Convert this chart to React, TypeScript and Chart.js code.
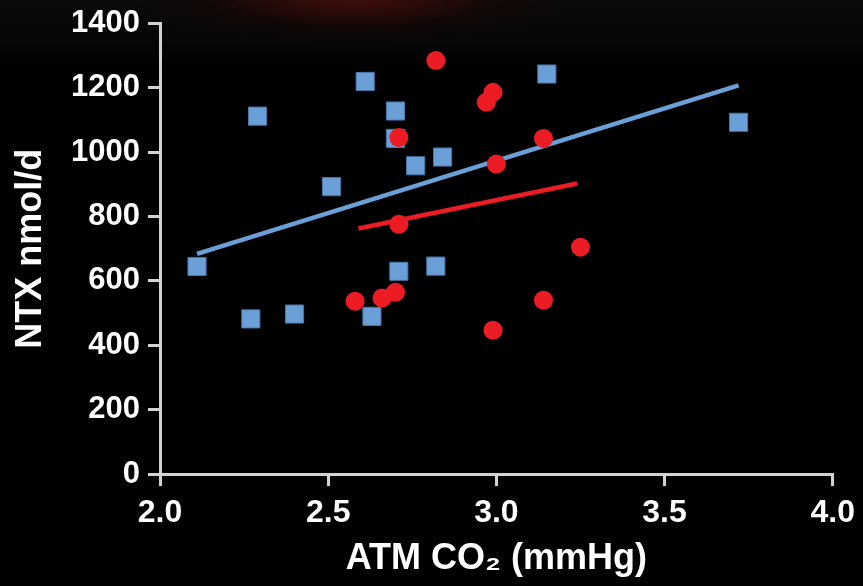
import { useEffect, useRef } from "react";
import { Chart, registerables } from "chart.js";

Chart.register(...registerables);

// Blue squares
const blueX = [2.11, 2.27, 2.29, 2.40, 2.51, 2.61, 2.63, 2.70, 2.70, 2.71, 2.76, 2.82, 2.84, 3.15, 3.72];
const blueY = [645, 482, 1112, 497, 893, 1220, 490, 1128, 1043, 630, 958, 646, 985, 1243, 1093];
// Red circles
const redX = [2.82, 2.97, 2.99, 2.71, 3.00, 3.14, 2.71, 3.25, 2.58, 2.66, 2.70, 3.14, 2.99];
const redY = [1285, 1155, 1186, 1046, 963, 1043, 776, 705, 537, 547, 565, 540, 447];
// Regression lines
const blueFitX = [2.11, 3.72];
const blueFitY = [684, 1208];
const redFitX = [2.59, 3.24];
const redFitY = [763, 903];

const xMin = 2.0;
const xMax = 4.0;
const xStep = 0.5;
const yMin = 0;
const yMax = 1400;
const yStep = 200;

const xTitle = "ATM CO\u2082 (mmHg)";
const yTitle = "NTX nmol/d";

const BLUE = "#6b9fd7";
const RED = "#ec1c24";
const AXIS = "#d2d2d2";
const FONT = "'Liberation Sans', Arial, Helvetica, sans-serif";

const zip = (xs: number[], ys: number[]) => xs.map((x, i) => ({ x, y: ys[i] }));

export default function App() {
  const ref = useRef<HTMLCanvasElement | null>(null);

  useEffect(() => {
    if (!ref.current) return;
    const chart = new Chart(ref.current, {
      type: "scatter",
      data: {
        datasets: [
          {
            label: "red",
            data: zip(redX, redY),
            pointStyle: "circle",
            pointRadius: 9.5,
            pointHoverRadius: 9.5,
            backgroundColor: RED,
            borderColor: RED,
            borderWidth: 0,
            order: 0,
          },
          {
            label: "blue",
            data: zip(blueX, blueY),
            pointStyle: "rect",
            pointRadius: 12.8,
            pointHoverRadius: 12.8,
            backgroundColor: BLUE,
            borderColor: "#4a78aa",
            borderWidth: 1,
            order: 1,
          },
          {
            type: "line",
            label: "blueFit",
            data: zip(blueFitX, blueFitY),
            borderColor: BLUE,
            borderWidth: 4.5,
            pointRadius: 0,
            showLine: true,
            fill: false,
            order: 2,
          } as any,
          {
            type: "line",
            label: "redFit",
            data: zip(redFitX, redFitY),
            borderColor: RED,
            borderWidth: 4.5,
            pointRadius: 0,
            showLine: true,
            fill: false,
            order: 3,
          } as any,
        ],
      },
      options: {
        animation: false,
        responsive: false,
        maintainAspectRatio: false,
        layout: { padding: { left: 0, right: 26, top: 23, bottom: 5 } },
        plugins: { legend: { display: false }, tooltip: { enabled: false } },
        scales: {
          x: {
            type: "linear",
            min: xMin,
            max: xMax,
            afterFit: (s: any) => {
              s.height = 107;
            },
            ticks: {
              stepSize: xStep,
              color: "#ffffff",
              padding: 8,
              font: { family: FONT, size: 32, weight: "bold" },
              callback: (v: any) => Number(v).toFixed(1),
            },
            grid: {
              drawOnChartArea: false,
              drawTicks: true,
              tickLength: 12,
              lineWidth: 3,
              color: AXIS,
            },
            border: { display: true, color: AXIS, width: 3 },
            title: {
              display: true,
              text: xTitle,
              color: "#ffffff",
              padding: { top: 0, bottom: 0 },
              font: { family: FONT, size: 36, weight: "bold" },
            },
          },
          y: {
            type: "linear",
            min: yMin,
            max: yMax,
            afterFit: (s: any) => {
              s.width = 160;
            },
            ticks: {
              stepSize: yStep,
              color: "#ffffff",
              padding: 8,
              font: { family: FONT, size: 31, weight: "bold", lineHeight: 1 },
              callback: (v: any) => String(Number(v)),
            },
            grid: {
              drawOnChartArea: false,
              drawTicks: true,
              tickLength: 12,
              lineWidth: 3,
              color: AXIS,
            },
            border: { display: true, color: AXIS, width: 3 },
            title: {
              display: true,
              text: yTitle,
              color: "#ffffff",
              padding: { top: 9, bottom: 0 },
              font: { family: FONT, size: 36, weight: "bold" },
            },
          },
        },
      },
    });
    return () => chart.destroy();
  }, []);

  return (
    <div
      style={{
        position: "fixed",
        left: 0,
        top: 0,
        width: 863,
        height: 586,
        background:
          "radial-gradient(ellipse 230px 45px at 355px 0px, rgba(70,14,10,0.9), rgba(30,6,4,0.4) 60%, rgba(0,0,0,0) 100%), linear-gradient(#0a0a0a 0px, #050505 50px, #000000 70px)",
      }}
    >
      <canvas ref={ref} width={863} height={586} style={{ display: "block" }} />
    </div>
  );
}
